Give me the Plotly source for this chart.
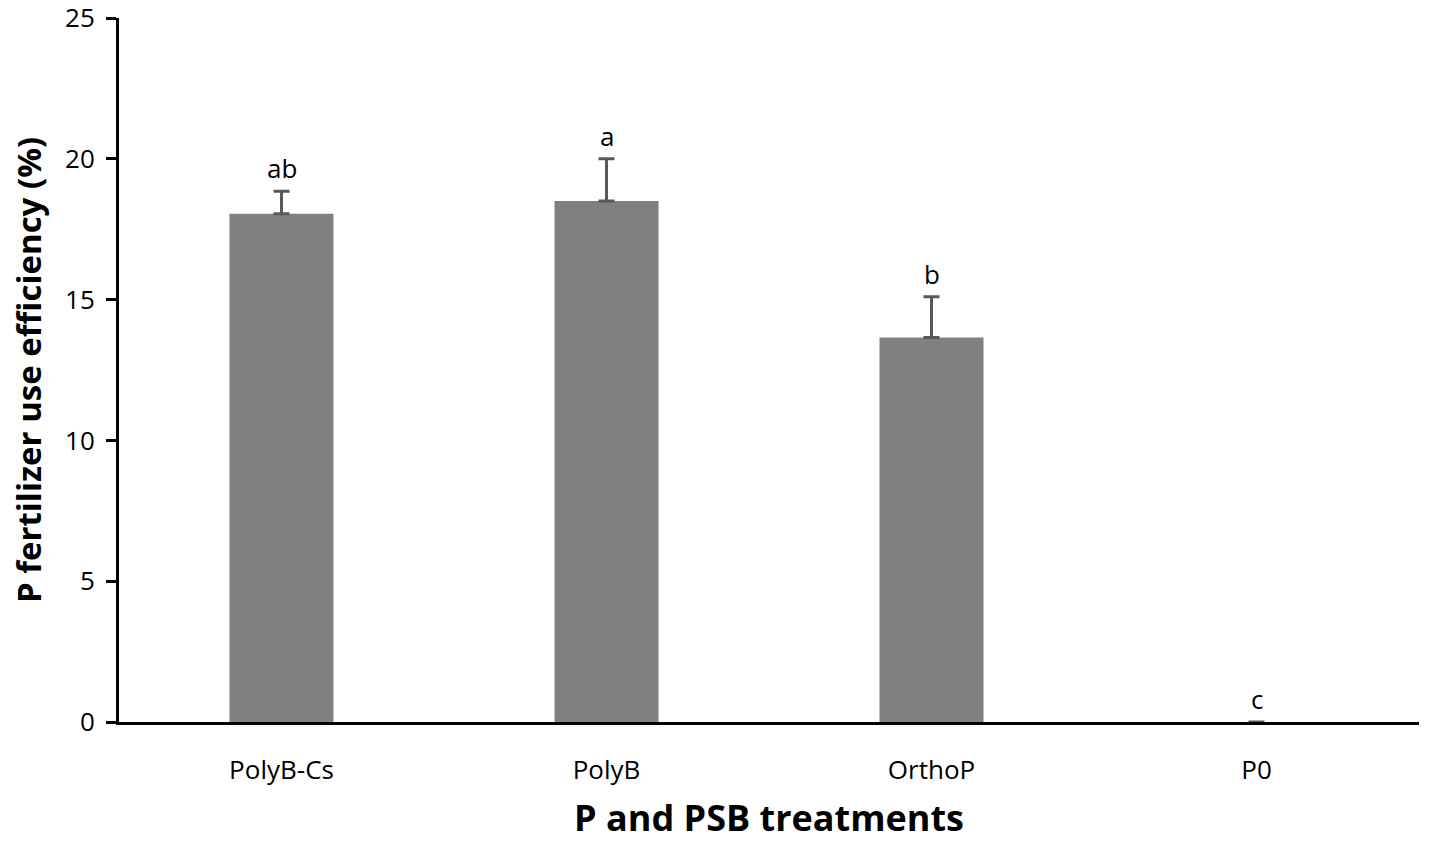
import plotly.graph_objects as go

# treatments and P fertilizer use efficiency (%)
treatments = ["PolyB-Cs", "PolyB", "OrthoP", "P0"]
efficiency = [18.05, 18.5, 13.65, 0]
error_up = [0.8, 1.5, 1.45, 0]
letters = ["ab", "a", "b", "c"]

font_family = "Open Sans, Noto Sans, sans-serif"

# no error bar drawn where there is no bar (P0)
err_shown = [e if e > 0 else float("nan") for e in error_up]

fig = go.Figure()
fig.add_trace(go.Bar(x=treatments,
                     y=efficiency,
                     marker=dict(color="#808080", line=dict(width=0)),
                     width=0.32,
                     error_y=dict(type="data", symmetric=False, array=err_shown,
                                  arrayminus=[float("nan")] * len(error_up),
                                  color="#595959", thickness=3, width=8),
                     showlegend=False))

# significance letters above the error bars
for t, v, e, l in zip(treatments, efficiency, error_up, letters):
    fig.add_annotation(x=t, y=v + e, text=l, showarrow=False,
                       yanchor="bottom", yshift=3,
                       font=dict(size=26, color="black", family=font_family))

fig.update_layout(
    template="none",
    width=1429, height=842,
    margin=dict(l=119, r=10, t=18, b=120),
    plot_bgcolor="white", paper_bgcolor="white",
    font=dict(family=font_family, color="black"),
)
fig.update_xaxes(range=[-0.5, 3.5], automargin=False, showline=True, linecolor="black", linewidth=3,
                 showgrid=False, ticks="", tickfont=dict(size=26), ticklabelstandoff=23,
                 title=dict(text="<b>P and PSB treatments</b>", font=dict(size=36), standoff=36))
fig.update_yaxes(range=[0, 25], dtick=5, automargin=False, showline=True, linecolor="black", linewidth=3,
                 showgrid=False, zeroline=False, ticklabeloverflow="allow",
                 ticks="outside", ticklen=10, tickwidth=3, tickcolor="black",
                 tickfont=dict(size=26), ticklabelstandoff=6,
                 title=dict(text="<b>P fertilizer use efficiency (%)</b>", font=dict(size=33), standoff=14))

fig.write_html("out.html", config={"displayModeBar": False},
               post_script="document.body.style.margin='0';")
